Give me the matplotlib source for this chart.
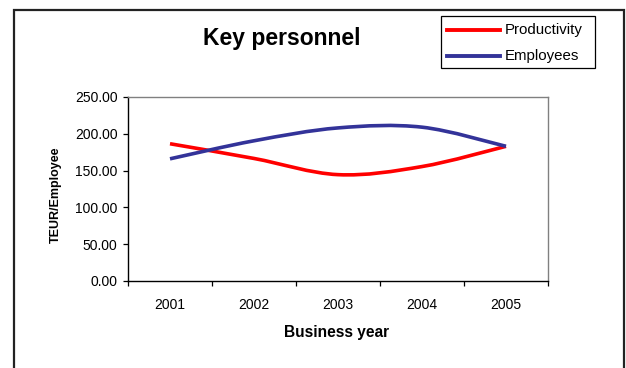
import matplotlib
matplotlib.use("Agg")
import matplotlib.pyplot as plt
from matplotlib.path import Path
from matplotlib.patches import PathPatch, Rectangle
from matplotlib.lines import Line2D
import numpy as np

plt.rcParams['font.family'] = ['Liberation Sans', 'DejaVu Sans']

years = ["2001", "2002", "2003", "2004", "2005"]
productivity = [186.5, 166.5, 144.5, 155.5, 183.0]
employees = [166.0, 190.5, 208.0, 209.0, 183.0]
y_ticks = [0, 50, 100, 150, 200, 250]
series_names = ["Productivity", "Employees"]

RED = "#FF0000"
NAVY = "#333399"

W, H = 626, 368
fig = plt.figure(figsize=(W / 100, H / 100), dpi=100)
fig.patch.set_facecolor("white")


def fx(px):
    return px / W


def fy(py):
    return 1 - py / H


def smooth_path(xs, ys):
    """Smoothed line through the points using cubic Bezier segments."""
    pts = np.column_stack([xs, ys]).astype(float)
    n = len(pts)
    verts = [pts[0]]
    codes = [Path.MOVETO]
    for i in range(n - 1):
        p0 = pts[i - 1] if i > 0 else pts[i]
        p1 = pts[i]
        p2 = pts[i + 1]
        p3 = pts[i + 2] if i + 2 < n else pts[i + 1]
        c1 = p1 + (p2 - p0) / 6.0
        c2 = p2 - (p3 - p1) / 6.0
        verts += [c1, c2, p2]
        codes += [Path.CURVE4] * 3
    return Path(verts, codes)


ax = fig.add_axes([fx(128), fy(281), fx(548) - fx(128), fy(97) - fy(281)])
xpos = np.arange(1, len(years) + 1)

for vals, col in [(productivity, RED), (employees, NAVY)]:
    patch = PathPatch(smooth_path(xpos, vals), fill=False, edgecolor=col,
                      lw=2.6, capstyle='butt', joinstyle='round')
    ax.add_patch(patch)

ax.set_xlim(0.5, len(years) + 0.5)
ax.set_ylim(0, 250)

ax.set_yticks(y_ticks)
ax.set_yticklabels([f"{v:.2f}" for v in y_ticks], fontsize=10)
ax.tick_params(axis='y', direction='out', length=3.5, width=0.9, pad=4,
               colors='black')

ax.set_xticks(np.arange(0.5, len(years) + 1, 1.0))
ax.set_xticklabels([])
ax.set_xticks(xpos, minor=True)
ax.set_xticklabels(years, minor=True, fontsize=10)
ax.tick_params(axis='x', which='major', direction='out', length=3.5, width=0.9)
ax.tick_params(axis='x', which='minor', length=0, pad=12)

for side in ['left', 'bottom']:
    ax.spines[side].set_color('black')
    ax.spines[side].set_linewidth(1.0)
for side in ['top', 'right']:
    ax.spines[side].set_color('#808080')
    ax.spines[side].set_linewidth(1.0)

# Title and axis titles
fig.text(fx(282), fy(39), "Key personnel", ha='center', va='center',
         fontsize=16.5, fontweight='bold')
fig.text(fx(337), fy(332), "Business year", ha='center', va='center',
         fontsize=11.2, fontweight='bold')
fig.text(fx(56), fy(195), "TEUR/Employee", ha='center', va='center',
         rotation=90, fontsize=9, fontweight='bold')

# Legend box with line samples
fig.add_artist(Rectangle((fx(441), fy(68)), fx(595) - fx(441), fy(16) - fy(68),
                         transform=fig.transFigure, fill=False,
                         edgecolor='black', lw=0.9))
for row, (name, col) in enumerate(zip(series_names, [RED, NAVY])):
    yrow = 30 + 26 * row
    fig.add_artist(Line2D([fx(447), fx(500)], [fy(yrow), fy(yrow)],
                          transform=fig.transFigure, color=col, lw=2.8))
    fig.text(fx(505), fy(yrow), name, ha='left', va='center', fontsize=10.8)

# Chart area border
fig.add_artist(Rectangle((fx(14), fy(380)), fx(624) - fx(14), fy(10) - fy(380),
                         transform=fig.transFigure, fill=False,
                         edgecolor='#222222', lw=1.6, clip_on=False))

fig.savefig("out.png", dpi=100, facecolor="white")
